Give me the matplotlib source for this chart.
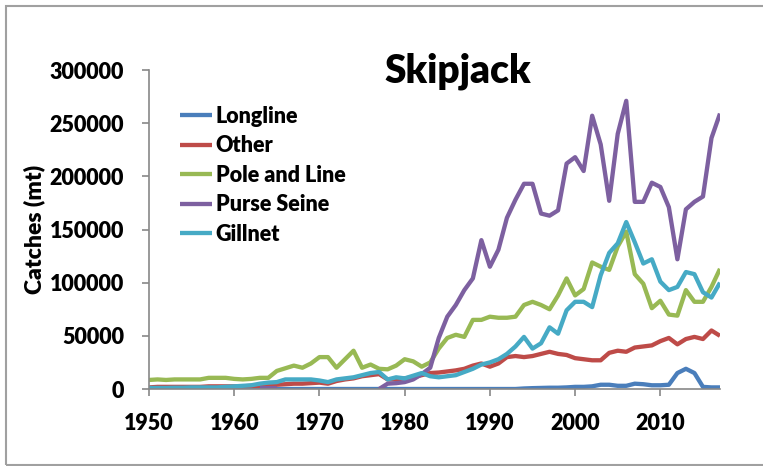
import numpy as np
import matplotlib
matplotlib.use("Agg")
import matplotlib.pyplot as plt
from matplotlib.patches import Rectangle

plt.rcParams['font.family'] = ['Lato', 'DejaVu Sans']

years = list(range(1950, 2018))
nan = float('nan')

longline = [0]*44 + [500, 800, 1000, 1200, 1200, 1500, 2000, 2000, 2500, 4000,
                     4000, 3000, 3000, 5000, 4500, 3500, 3500, 4000, 15000, 19000,
                     15000, 2000, 1500, 1500]

other = [1500, 2000, 2000, 2000, 2000, 2000, 2000, 2500, 2500, 2500,
         2500, 2500, 3000, 3000, 3500, 4000, 4500, 5000, 5000, 5500,
         6000, 5000, 7500, 9000, 10000, 12000, 13000, 14000, 9000, 9000,
         10000, 11000, 13000, 15000, 15500, 16500, 17500, 19000, 22000, 24000,
         21000, 24000, 30000, 31000, 30000, 31000, 33000, 35000, 33000, 32000,
         29000, 28000, 27000, 27000, 34000, 36000, 35000, 39000, 40000, 41000,
         45000, 48000, 42000, 47000, 49000, 47000, 55000, 50000]

pole_and_line = [8500, 9000, 8500, 9000, 9000, 9000, 9000, 10500, 10500, 10500,
                 9500, 9000, 9500, 10500, 10500, 17000, 19500, 22000, 20000, 24000,
                 30000, 30000, 20000, 28000, 36000, 20000, 23000, 19000, 18500, 22000,
                 28000, 26000, 21000, 25000, 38000, 48000, 51000, 49000, 65000, 65000,
                 68000, 67000, 67000, 68000, 79000, 82000, 79000, 75000, 88000, 104000,
                 88000, 94000, 119000, 115000, 112000, 134000, 148000, 108000, 99000, 76000,
                 83000, 70000, 69000, 93000, 82000, 82000, 96000, 113000]

purse_seine = [nan]*13 + [800, 800, 800] + [nan]*11 + [
    0, 5000, 5500, 6500, 9000, 14000, 20000, 48000, 68000, 79000,
    93000, 104000, 140000, 115000, 131000, 161000, 178000, 193000, 193000, 165000,
    163000, 168000, 212000, 218000, 205000, 257000, 230000, 177000, 240000, 271000,
    176000, 176000, 194000, 190000, 171000, 122000, 169000, 176000, 181000, 236000,
    259000]

gillnet = [1000, 1000, 1000, 1200, 1200, 1500, 1500, 1500, 1500, 2000,
           2500, 3000, 3500, 5000, 6000, 6500, 9000, 9000, 9000, 9000,
           8000, 6500, 9000, 10000, 11000, 13000, 15000, 16000, 9000, 11000,
           10000, 12500, 15000, 12000, 11000, 12000, 13000, 16000, 19000, 23000,
           25000, 28000, 33000, 40000, 49000, 38000, 43000, 58000, 52000, 74000,
           82000, 82000, 77000, 107000, 128000, 137000, 157000, 138000, 118000, 122000,
           101000, 93000, 96000, 110000, 108000, 91000, 86000, 100000]

series = [("Longline", longline, "#4A7EBB"),
          ("Other", other, "#BE4B48"),
          ("Pole and Line", pole_and_line, "#98B954"),
          ("Purse Seine", purse_seine, "#7D60A0"),
          ("Gillnet", gillnet, "#46AAC5")]

xticks = [1950, 1960, 1970, 1980, 1990, 2000, 2010]
yticks = [0, 50000, 100000, 150000, 200000, 250000, 300000]

W, H = 763, 466
WEIGHT = 'heavy'
fig = plt.figure(figsize=(W/100, H/100), dpi=100)
ax = fig.add_axes([149/W, 1-389/H, 571/W, 319/H])

for name, vals, col in series:
    ax.plot(years, vals, color=col, lw=3.1, label=name, solid_capstyle='butt',
            solid_joinstyle='round')

ax.set_xlim(1950, 2017)
ax.set_ylim(0, 300000)
ax.set_xticks(xticks)
ax.set_yticks(yticks)
ax.set_yticklabels([str(v) for v in yticks])
for s in ['top', 'right']:
    ax.spines[s].set_visible(False)
for s in ['left', 'bottom']:
    ax.spines[s].set_color('#888888')
    ax.spines[s].set_linewidth(1.2)
ax.tick_params(axis='both', colors='#888888', labelcolor='black', length=5, width=1.2,
               labelsize=15.5)
ax.tick_params(axis='y', pad=13)
ax.tick_params(axis='x', pad=12)
for lab in ax.get_xticklabels() + ax.get_yticklabels():
    lab.set_fontweight(WEIGHT)

ax.set_ylabel("Catches (mt)", fontsize=16.5, fontweight=WEIGHT)
ax.yaxis.set_label_coords(-104/571, 0.5)

fig.text(458/W, 1-71/H, "Skipjack", fontsize=28, fontweight=WEIGHT,
         ha='center', va='center')

leg = ax.legend(loc='upper left', bbox_to_anchor=(31/571, 1-36/319), frameon=False,
                fontsize=15.5, handlelength=1.5, handletextpad=0.15,
                labelspacing=0.39, borderaxespad=0, borderpad=0)
for t in leg.get_texts():
    t.set_fontweight(WEIGHT)

fig.add_artist(Rectangle((6/W, 1-465/H), (W+20)/W, 459/H, transform=fig.transFigure,
                         fill=False, edgecolor='#a0a0a0', lw=1.5))

fig.savefig("out.png", dpi=100)
